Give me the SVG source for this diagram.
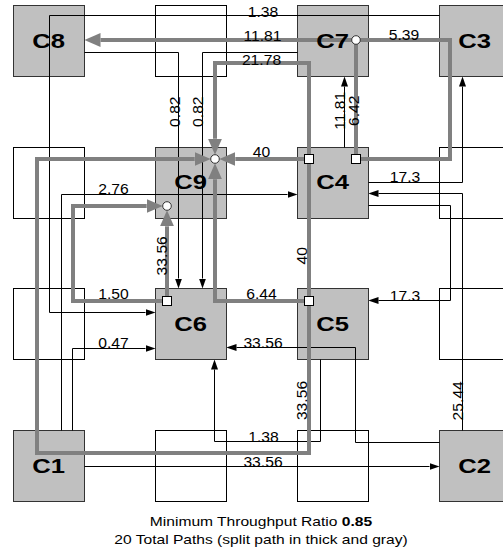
<svg xmlns="http://www.w3.org/2000/svg" width="503" height="556" viewBox="0 0 503 556">
<style>
.tile{fill:#fff;stroke:#000;stroke-width:1}
.gtile{fill:#c0c0c0;stroke:#333;stroke-width:1}
.thin{fill:none;stroke:#000;stroke-width:1}
.thick{fill:none;stroke:#808080;stroke-width:4;stroke-linejoin:miter}
.lbl{font-family:"Liberation Sans",Arial,sans-serif;font-size:14px;text-anchor:middle;fill:#000}
.nlbl{font-family:"Liberation Sans",Arial,sans-serif;font-size:21px;font-weight:bold;text-anchor:middle;fill:#000}
.title{font-family:"Liberation Sans",Arial,sans-serif;font-size:13px;text-anchor:middle;fill:#000}
.circ{fill:#fff;stroke:#333;stroke-width:1}
.sq{fill:#fff;stroke:#000;stroke-width:1}
</style>
<defs>
<marker id="ah" markerUnits="userSpaceOnUse" markerWidth="10" markerHeight="8" viewBox="0 0 10 8" refX="0" refY="4" orient="auto"><path d="M0,0.5 L10,4 L0,7.5z" fill="#000"/></marker>
<marker id="ahg" markerUnits="userSpaceOnUse" markerWidth="16" markerHeight="14" viewBox="0 0 16 14" refX="0" refY="7" orient="auto"><path d="M0,0 L16,7 L0,14z" fill="#808080"/></marker>
</defs>
<rect width="503" height="556" fill="#fff"/>
<g id="tiles">
<rect id="tile-C8" class="gtile" x="13.5" y="5.5" width="71" height="71"/>
<rect id="tile-w10" class="tile" x="155.5" y="5.5" width="71" height="71"/>
<rect id="tile-C7" class="gtile" x="297.5" y="5.5" width="71" height="71"/>
<rect id="tile-C3" class="gtile" x="439.5" y="5.5" width="71" height="71"/>
<rect id="tile-w01" class="tile" x="13.5" y="147.5" width="71" height="71"/>
<rect id="tile-C9" class="gtile" x="155.5" y="147.5" width="71" height="71"/>
<rect id="tile-C4" class="gtile" x="297.5" y="147.5" width="71" height="71"/>
<rect id="tile-w31" class="tile" x="439.5" y="147.5" width="71" height="71"/>
<rect id="tile-w02" class="tile" x="13.5" y="288.5" width="71" height="71"/>
<rect id="tile-C6" class="gtile" x="155.5" y="288.5" width="71" height="71"/>
<rect id="tile-C5" class="gtile" x="297.5" y="288.5" width="71" height="71"/>
<rect id="tile-w32" class="tile" x="439.5" y="288.5" width="71" height="71"/>
<rect id="tile-C1" class="gtile" x="13.5" y="430.5" width="71" height="71"/>
<rect id="tile-w13" class="tile" x="155.5" y="430.5" width="71" height="71"/>
<rect id="tile-w23" class="tile" x="297.5" y="430.5" width="71" height="71"/>
<rect id="tile-C2" class="gtile" x="439.5" y="430.5" width="71" height="71"/>
</g>
<g id="connectors">
<g id="thin-links">
<path class="thin" marker-end="url(#ah)" d="M439.5,15.5 H49.5 V312.5 H145.5"/>
<path class="thin" marker-end="url(#ah)" d="M84.5,52.5 H178.5 V278.5"/>
<path class="thin" marker-end="url(#ah)" d="M297.5,52.5 H202.5 V278.5"/>
<path class="thin" marker-end="url(#ah)" d="M344.5,147.5 V86.5"/>
<path class="thin" marker-end="url(#ah)" d="M368.5,182.5 H462.5 V86.5"/>
<path class="thin" marker-end="url(#ah)" d="M462.5,430.5 V193.5 H378.5"/>
<path class="thin" marker-end="url(#ah)" d="M368.5,205.5 H450.5 V300.5 H378.5"/>
<path class="thin" marker-end="url(#ah)" d="M439.5,442.5 H355.5 V347.5 H236.5"/>
<path class="thin" marker-end="url(#ah)" d="M320.5,359.5 V441.5 H214.5 V369.5"/>
<path class="thin" marker-end="url(#ah)" d="M84.5,466.5 H429.5"/>
<path class="thin" marker-end="url(#ah)" d="M72.5,430.5 V348.5 H145.5"/>
<path class="thin" marker-end="url(#ah)" d="M61.5,430.5 V194.5 H287.5"/>
</g>
<g id="split-links">
<path class="thick" marker-end="url(#ahg)" d="M356,40 H100.5"/>
<path class="thick" d="M356,159 V40"/>
<path class="thick" d="M356,159 H450 V40 H356"/>
<path class="thick" marker-end="url(#ahg)" d="M309,159 H235.3"/>
<path class="thick" marker-end="url(#ahg)" d="M309,159 V63 H215 V138.7"/>
<path class="thick" d="M309,159 V301"/>
<path class="thick" marker-end="url(#ahg)" d="M309,301 V453 H37 V159 H194.7"/>
<path class="thick" marker-end="url(#ahg)" d="M309,301 H215 V179.3"/>
<path class="thick" marker-end="url(#ahg)" d="M167,301 V226.3"/>
<path class="thick" marker-end="url(#ahg)" d="M167,301 H73 V206 H146.7"/>
</g>
<g id="junctions">
<circle class="circ" cx="356" cy="40" r="4.3"/>
<circle class="circ" cx="215" cy="159" r="4.3"/>
<circle class="circ" cx="167" cy="206" r="4.3"/>
<rect class="sq" x="304.5" y="154.5" width="9" height="9"/>
<rect class="sq" x="351.5" y="154.5" width="9" height="9"/>
<rect class="sq" x="162.5" y="296.5" width="9" height="9"/>
<rect class="sq" x="304.5" y="296.5" width="9" height="9"/>
</g>
</g>
<g id="link-labels">
<text class="lbl" transform="translate(263,17) scale(1.12,1)">1.38</text>
<text class="lbl" transform="translate(262.5,40.5) scale(1.12,1)">11.81</text>
<text class="lbl" transform="translate(261.5,64.5) scale(1.12,1)">21.78</text>
<text class="lbl" transform="translate(404,40) scale(1.12,1)">5.39</text>
<text class="lbl" transform="translate(261.5,157) scale(1.12,1)">40</text>
<text class="lbl" transform="translate(113.5,193.5) scale(1.12,1)">2.76</text>
<text class="lbl" transform="translate(405,181.5) scale(1.12,1)">17.3</text>
<text class="lbl" transform="translate(113.5,299) scale(1.12,1)">1.50</text>
<text class="lbl" transform="translate(261.5,299) scale(1.12,1)">6.44</text>
<text class="lbl" transform="translate(405,300.5) scale(1.12,1)">17.3</text>
<text class="lbl" transform="translate(113.5,348) scale(1.12,1)">0.47</text>
<text class="lbl" transform="translate(263,347.5) scale(1.12,1)">33.56</text>
<text class="lbl" transform="translate(263.5,441.5) scale(1.12,1)">1.38</text>
<text class="lbl" transform="translate(263,466.5) scale(1.12,1)">33.56</text>
<text class="lbl" transform="translate(180,111.7) rotate(-90) scale(1.12,1)">0.82</text>
<text class="lbl" transform="translate(203.3,111.7) rotate(-90) scale(1.12,1)">0.82</text>
<text class="lbl" transform="translate(345,110.8) rotate(-90) scale(1.12,1)">11.81</text>
<text class="lbl" transform="translate(359,110.8) rotate(-90) scale(1.12,1)">6.42</text>
<text class="lbl" transform="translate(166.7,255.8) rotate(-90) scale(1.12,1)">33.56</text>
<text class="lbl" transform="translate(307,255.8) rotate(-90) scale(1.12,1)">40</text>
<text class="lbl" transform="translate(307,400.5) rotate(-90) scale(1.12,1)">33.56</text>
<text class="lbl" transform="translate(463,400.8) rotate(-90) scale(1.12,1)">25.44</text>
</g>
<g id="C8"><text class="nlbl" transform="translate(48.5,47.5) scale(1.22,1)">C8</text></g>
<g id="C7"><text class="nlbl" transform="translate(332.5,47.5) scale(1.22,1)">C7</text></g>
<g id="C3"><text class="nlbl" transform="translate(474.5,47.5) scale(1.22,1)">C3</text></g>
<g id="C9"><text class="nlbl" transform="translate(190.5,189) scale(1.22,1)">C9</text></g>
<g id="C4"><text class="nlbl" transform="translate(332.5,189) scale(1.22,1)">C4</text></g>
<g id="C6"><text class="nlbl" transform="translate(190.5,331) scale(1.22,1)">C6</text></g>
<g id="C5"><text class="nlbl" transform="translate(332.5,331) scale(1.22,1)">C5</text></g>
<g id="C1"><text class="nlbl" transform="translate(48.5,473) scale(1.22,1)">C1</text></g>
<g id="C2"><text class="nlbl" transform="translate(474.5,473) scale(1.22,1)">C2</text></g>
<g id="caption">
<text class="title" transform="translate(261,526) scale(1.2,1)">Minimum Throughput Ratio <tspan font-weight="bold">0.85</tspan></text>
<text class="title" transform="translate(261,544) scale(1.2,1)">20 Total Paths (split path in thick and gray)</text>
</g>
</svg>
